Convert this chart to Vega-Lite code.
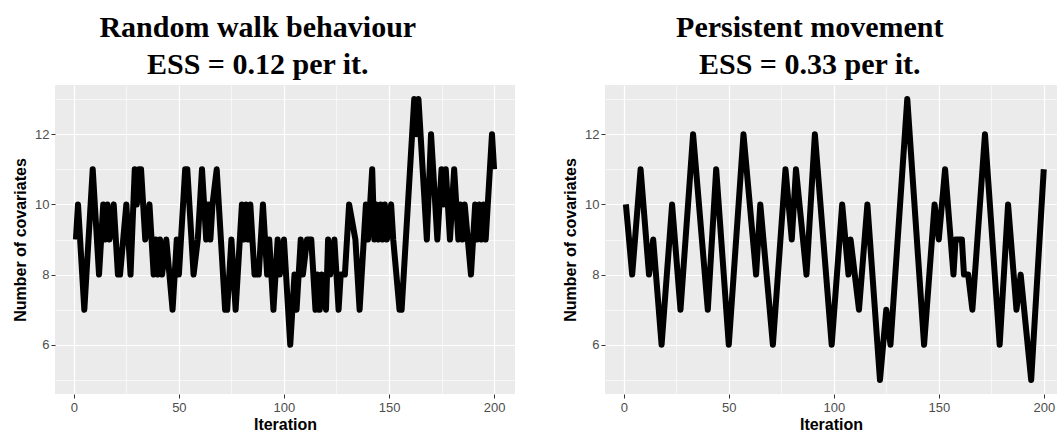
{
  "$schema": "https://vega.github.io/schema/vega-lite/v6.json",
  "background": "white",
  "padding": {"left": 12, "top": 13, "right": 5, "bottom": 0},
  "datasets": {
    "rw": [
      {"iteration": 1, "covariates": 9}, {"iteration": 2, "covariates": 10}, {"iteration": 5, "covariates": 7}, {"iteration": 9, "covariates": 11},
      {"iteration": 12, "covariates": 8}, {"iteration": 14, "covariates": 10}, {"iteration": 15, "covariates": 9}, {"iteration": 16, "covariates": 10},
      {"iteration": 17, "covariates": 9}, {"iteration": 19, "covariates": 10}, {"iteration": 20, "covariates": 9}, {"iteration": 21, "covariates": 8},
      {"iteration": 22, "covariates": 8}, {"iteration": 25, "covariates": 10}, {"iteration": 27, "covariates": 8}, {"iteration": 29, "covariates": 11},
      {"iteration": 30, "covariates": 10}, {"iteration": 31, "covariates": 11}, {"iteration": 32, "covariates": 11}, {"iteration": 34, "covariates": 9},
      {"iteration": 36, "covariates": 10}, {"iteration": 38, "covariates": 8}, {"iteration": 39, "covariates": 9}, {"iteration": 40, "covariates": 8},
      {"iteration": 41, "covariates": 9}, {"iteration": 42, "covariates": 8}, {"iteration": 44, "covariates": 9}, {"iteration": 47, "covariates": 7},
      {"iteration": 49, "covariates": 9}, {"iteration": 50, "covariates": 8}, {"iteration": 53, "covariates": 11}, {"iteration": 54, "covariates": 11},
      {"iteration": 57, "covariates": 8}, {"iteration": 59, "covariates": 9}, {"iteration": 61, "covariates": 11}, {"iteration": 63, "covariates": 9},
      {"iteration": 64, "covariates": 10}, {"iteration": 65, "covariates": 9}, {"iteration": 66, "covariates": 10}, {"iteration": 68, "covariates": 11},
      {"iteration": 72, "covariates": 7}, {"iteration": 73, "covariates": 7}, {"iteration": 75, "covariates": 9}, {"iteration": 77, "covariates": 7},
      {"iteration": 80, "covariates": 10}, {"iteration": 81, "covariates": 9}, {"iteration": 82, "covariates": 10}, {"iteration": 83, "covariates": 9},
      {"iteration": 84, "covariates": 10}, {"iteration": 86, "covariates": 8}, {"iteration": 88, "covariates": 8}, {"iteration": 90, "covariates": 10},
      {"iteration": 92, "covariates": 8}, {"iteration": 93, "covariates": 9}, {"iteration": 95, "covariates": 7}, {"iteration": 97, "covariates": 9},
      {"iteration": 98, "covariates": 8}, {"iteration": 100, "covariates": 9}, {"iteration": 103, "covariates": 6}, {"iteration": 105, "covariates": 8},
      {"iteration": 106, "covariates": 7}, {"iteration": 108, "covariates": 9}, {"iteration": 109, "covariates": 8}, {"iteration": 111, "covariates": 9},
      {"iteration": 113, "covariates": 9}, {"iteration": 115, "covariates": 7}, {"iteration": 116, "covariates": 8}, {"iteration": 117, "covariates": 7},
      {"iteration": 118, "covariates": 8}, {"iteration": 120, "covariates": 7}, {"iteration": 121, "covariates": 9}, {"iteration": 122, "covariates": 8},
      {"iteration": 124, "covariates": 9}, {"iteration": 126, "covariates": 7}, {"iteration": 127, "covariates": 8}, {"iteration": 129, "covariates": 8},
      {"iteration": 131, "covariates": 10}, {"iteration": 134, "covariates": 9}, {"iteration": 136, "covariates": 7}, {"iteration": 139, "covariates": 10},
      {"iteration": 140, "covariates": 9}, {"iteration": 142, "covariates": 11}, {"iteration": 143, "covariates": 9}, {"iteration": 144, "covariates": 10},
      {"iteration": 145, "covariates": 9}, {"iteration": 146, "covariates": 10}, {"iteration": 147, "covariates": 9}, {"iteration": 148, "covariates": 10},
      {"iteration": 149, "covariates": 9}, {"iteration": 151, "covariates": 10}, {"iteration": 152, "covariates": 9}, {"iteration": 155, "covariates": 7},
      {"iteration": 156, "covariates": 7}, {"iteration": 162, "covariates": 13}, {"iteration": 163, "covariates": 12}, {"iteration": 164, "covariates": 13},
      {"iteration": 168, "covariates": 9}, {"iteration": 170, "covariates": 12}, {"iteration": 173, "covariates": 9}, {"iteration": 175, "covariates": 11},
      {"iteration": 176, "covariates": 10}, {"iteration": 177, "covariates": 11}, {"iteration": 179, "covariates": 9}, {"iteration": 181, "covariates": 11},
      {"iteration": 183, "covariates": 9}, {"iteration": 184, "covariates": 10}, {"iteration": 185, "covariates": 9}, {"iteration": 186, "covariates": 10},
      {"iteration": 189, "covariates": 8}, {"iteration": 191, "covariates": 10}, {"iteration": 192, "covariates": 9}, {"iteration": 193, "covariates": 10},
      {"iteration": 194, "covariates": 9}, {"iteration": 195, "covariates": 10}, {"iteration": 196, "covariates": 9}, {"iteration": 199, "covariates": 12},
      {"iteration": 200, "covariates": 11}
    ],
    "pm": [
      {"iteration": 1, "covariates": 10}, {"iteration": 4, "covariates": 8}, {"iteration": 8, "covariates": 11}, {"iteration": 12, "covariates": 8},
      {"iteration": 14, "covariates": 9}, {"iteration": 18, "covariates": 6}, {"iteration": 23, "covariates": 10}, {"iteration": 27, "covariates": 7},
      {"iteration": 33, "covariates": 12}, {"iteration": 40, "covariates": 7}, {"iteration": 44, "covariates": 11}, {"iteration": 50, "covariates": 6},
      {"iteration": 57, "covariates": 12}, {"iteration": 63, "covariates": 8}, {"iteration": 65, "covariates": 10}, {"iteration": 71, "covariates": 6},
      {"iteration": 77, "covariates": 11}, {"iteration": 80, "covariates": 9}, {"iteration": 82, "covariates": 11}, {"iteration": 87, "covariates": 8},
      {"iteration": 91, "covariates": 12}, {"iteration": 99, "covariates": 6}, {"iteration": 104, "covariates": 10}, {"iteration": 107, "covariates": 8},
      {"iteration": 108, "covariates": 9}, {"iteration": 112, "covariates": 7}, {"iteration": 116, "covariates": 10}, {"iteration": 122, "covariates": 5},
      {"iteration": 125, "covariates": 7}, {"iteration": 127, "covariates": 6}, {"iteration": 135, "covariates": 13}, {"iteration": 143, "covariates": 6},
      {"iteration": 148, "covariates": 10}, {"iteration": 150, "covariates": 9}, {"iteration": 153, "covariates": 11}, {"iteration": 157, "covariates": 8},
      {"iteration": 158, "covariates": 9}, {"iteration": 161, "covariates": 9}, {"iteration": 162, "covariates": 8}, {"iteration": 164, "covariates": 8},
      {"iteration": 166, "covariates": 7}, {"iteration": 172, "covariates": 12}, {"iteration": 179, "covariates": 6}, {"iteration": 183, "covariates": 10},
      {"iteration": 187, "covariates": 7}, {"iteration": 189, "covariates": 8}, {"iteration": 194, "covariates": 5}, {"iteration": 200, "covariates": 11}
    ]
  },
  "hconcat": [
    {
      "title": {"text": ["Random walk behaviour", "ESS = 0.12 per it."], "dx": -6},
      "width": 460,
      "height": 309,
      "data": {"name": "rw"},
      "mark": {"type": "line", "color": "black", "strokeWidth": 6, "strokeJoin": "round", "strokeCap": "butt", "clip": true},
      "encoding": {
        "x": {
          "field": "iteration", "type": "quantitative",
          "scale": {"domain": [-8.95, 209.95], "nice": false, "zero": false},
          "axis": {
            "title": "Iteration",
            "values": [0, 25, 50, 75, 100, 125, 150, 175, 200],
            "labelExpr": "datum.value % 50 == 0 ? datum.label : ''",
            "gridWidth": {"condition": {"test": "datum.value % 50 == 0", "value": 1.2}, "value": 0.6},
            "tickOpacity": {"condition": {"test": "datum.value % 50 == 0", "value": 1}, "value": 0}
          }
        },
        "y": {
          "field": "covariates", "type": "quantitative",
          "scale": {"domain": [4.6, 13.4], "nice": false, "zero": false},
          "axis": {
            "title": "Number of covariates",
            "values": [5, 6, 7, 8, 9, 10, 11, 12, 13],
            "labelExpr": "datum.value % 2 == 0 ? datum.label : ''",
            "gridWidth": {"condition": {"test": "datum.value % 2 == 0", "value": 1.2}, "value": 0.6},
            "tickOpacity": {"condition": {"test": "datum.value % 2 == 0", "value": 1}, "value": 0}
          }
        }
      }
    },
    {
      "title": {"text": ["Persistent movement", "ESS = 0.33 per it."]},
      "width": 452,
      "height": 309,
      "data": {"name": "pm"},
      "mark": {"type": "line", "color": "black", "strokeWidth": 6, "strokeJoin": "round", "strokeCap": "butt", "clip": true},
      "encoding": {
        "x": {
          "field": "iteration", "type": "quantitative",
          "scale": {"domain": [-8.95, 206.3], "nice": false, "zero": false},
          "axis": {
            "title": "Iteration",
            "values": [0, 25, 50, 75, 100, 125, 150, 175, 200],
            "labelExpr": "datum.value % 50 == 0 ? datum.label : ''",
            "gridWidth": {"condition": {"test": "datum.value % 50 == 0", "value": 1.2}, "value": 0.6},
            "tickOpacity": {"condition": {"test": "datum.value % 50 == 0", "value": 1}, "value": 0}
          }
        },
        "y": {
          "field": "covariates", "type": "quantitative",
          "scale": {"domain": [4.6, 13.4], "nice": false, "zero": false},
          "axis": {
            "title": "Number of covariates",
            "values": [5, 6, 7, 8, 9, 10, 11, 12, 13],
            "labelExpr": "datum.value % 2 == 0 ? datum.label : ''",
            "gridWidth": {"condition": {"test": "datum.value % 2 == 0", "value": 1.2}, "value": 0.6},
            "tickOpacity": {"condition": {"test": "datum.value % 2 == 0", "value": 1}, "value": 0}
          }
        }
      }
    }
  ],
  "spacing": 47,
  "config": {
    "view": {"fill": "#EBEBEB", "stroke": null},
    "axis": {
      "domain": false,
      "gridColor": "white",
      "tickColor": "#333333",
      "tickSize": 4,
      "tickWidth": 1,
      "labelColor": "#4D4D4D",
      "labelFont": "Liberation Sans",
      "labelFontSize": 13,
      "labelPadding": 2,
      "labelFlush": false,
      "titleFont": "Liberation Sans",
      "titleFontSize": 16,
      "titleFontWeight": "bold",
      "titleColor": "black"
    },
    "axisX": {"labelPadding": 3, "titlePadding": 2},
    "axisY": {"titlePadding": 6},
    "title": {
      "font": "Liberation Serif",
      "fontSize": 30,
      "fontWeight": "bold",
      "color": "black",
      "anchor": "middle",
      "frame": "bounds",
      "lineHeight": 37,
      "offset": 5
    }
  }
}
